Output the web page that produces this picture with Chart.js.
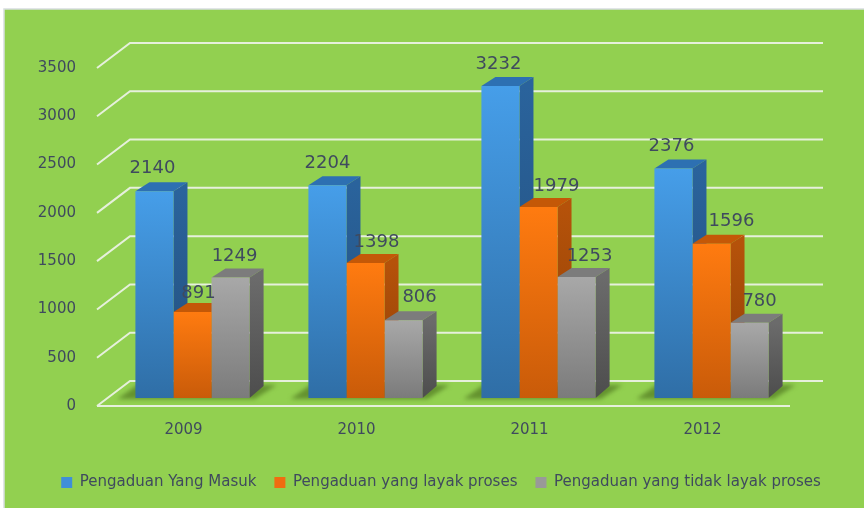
<!DOCTYPE html>
<html>
<head>
<meta charset="utf-8">
<style>
  html, body { margin: 0; padding: 0; background: #fff; }
  canvas { display: block; filter: blur(0.7px); }
</style>
<script src="https://cdn.jsdelivr.net/npm/chart.js@4"></script>
</head>
<body>
<canvas id="myChart" width="864" height="508"></canvas>
<script>
const years = ['2009', '2010', '2011', '2012'];
const seriesNames = ['Pengaduan Yang Masuk', 'Pengaduan yang layak proses', 'Pengaduan yang tidak layak proses'];
const masuk = [2140, 2204, 3232, 2376];
const layak = [891, 1398, 1979, 1596];
const tidakLayak = [1249, 806, 1253, 780];
const yTicks = [0, 500, 1000, 1500, 2000, 2500, 3000, 3500];

const textColor = '#3f4a5e';
const depthX = 14, depthY = 9;
const wallX = 24, wallY = 17, floorX = 9, floorY = 8;

// top colour, bottom colour, side top, side bottom, cap
const palette = [
  ['#469ee9', '#2f6ea6', '#2a639c', '#234f7c', '#2d70b2'],
  ['#ff7b10', '#c95b09', '#b5520a', '#8f4006', '#c45807'],
  ['#a8a8a8', '#7b7b7b', '#6b6b6b', '#4d4d4d', '#7c7c7c']
];
const legendColors = ['#3f8fd8', '#f06c10', '#999999'];

// the labels were dragged around in the original, so each one has its own nudge
const labelNudge = [[-2, 0, -2, -2], [6, 11, 18, 20], [4, 16, 13, 10]];
const labelLift = [[23, 22, 22, 22], [19, 21, 21, 23], [21, 23, 21, 21]];

function barGradient(i) {
  return function (c) {
    const chart = c.chart;
    if (!chart.chartArea || c.parsed === undefined) return palette[i][0];
    const top = chart.scales.y.getPixelForValue(c.parsed.y);
    const g = chart.ctx.createLinearGradient(0, top, 0, chart.chartArea.bottom);
    g.addColorStop(0, palette[i][0]);
    g.addColorStop(1, palette[i][1]);
    return g;
  };
}

const scene3d = {
  id: 'scene3d',
  beforeDraw(chart) {
    const ctx = chart.ctx;
    ctx.save();
    ctx.fillStyle = '#92d050';
    ctx.fillRect(4, 9, chart.width - 4, chart.height - 9);
    ctx.strokeStyle = '#d8dde0';
    ctx.lineWidth = 1.5;
    ctx.beginPath();
    ctx.moveTo(4, chart.height);
    ctx.lineTo(4, 9);
    ctx.lineTo(chart.width, 9);
    ctx.stroke();
    ctx.restore();
  },
  beforeDatasetsDraw(chart) {
    const ctx = chart.ctx;
    const area = chart.chartArea;
    const y = chart.scales.y;
    ctx.save();
    // slanted grid lines
    ctx.strokeStyle = '#e6f0dc';
    ctx.lineWidth = 2;
    yTicks.forEach(function (t) {
      const py = y.getPixelForValue(t);
      ctx.beginPath();
      ctx.moveTo(area.left - floorX, py + floorY);
      ctx.lineTo(area.left + wallX, py - wallY);
      ctx.lineTo(area.right + wallX + 1, py - wallY);
      ctx.stroke();
    });
    const zero = y.getPixelForValue(0);
    ctx.beginPath();
    ctx.moveTo(area.left - floorX, zero + floorY);
    ctx.lineTo(area.right - floorX + 1, zero + floorY);
    ctx.stroke();

    // floor shadow under each group
    const first = chart.getDatasetMeta(0).data;
    const last = chart.getDatasetMeta(2).data;
    ctx.filter = 'blur(2px)';
    ctx.fillStyle = '#64922f';
    first.forEach(function (b, i) {
      const l = b.x - b.width / 2;
      const r = last[i].x + last[i].width / 2;
      ctx.beginPath();
      ctx.moveTo(l - 18, zero + 1);
      ctx.lineTo(l + 2, zero - 13);
      ctx.lineTo(r + 27, zero - 13);
      ctx.lineTo(r + 5, zero + 1);
      ctx.closePath();
      ctx.fill();
    });
    ctx.filter = 'none';

    // side and cap of each bar, the library paints the front afterwards
    chart.data.datasets.forEach(function (ds, s) {
      chart.getDatasetMeta(s).data.forEach(function (b) {
        const l = b.x - b.width / 2;
        const r = b.x + b.width / 2;
        const g = ctx.createLinearGradient(0, b.y, 0, b.base);
        g.addColorStop(0, palette[s][2]);
        g.addColorStop(1, palette[s][3]);
        ctx.fillStyle = g;
        ctx.beginPath();
        ctx.moveTo(r, b.y);
        ctx.lineTo(r + depthX, b.y - depthY);
        ctx.lineTo(r + depthX, b.base - depthY - 3);
        ctx.lineTo(r, b.base);
        ctx.closePath();
        ctx.fill();
        ctx.fillStyle = palette[s][4];
        ctx.beginPath();
        ctx.moveTo(l, b.y);
        ctx.lineTo(l + depthX, b.y - depthY);
        ctx.lineTo(r + depthX, b.y - depthY);
        ctx.lineTo(r, b.y);
        ctx.closePath();
        ctx.fill();
      });
    });
    ctx.restore();
  },
  afterDatasetsDraw(chart) {
    const ctx = chart.ctx;
    ctx.save();
    ctx.fillStyle = textColor;
    ctx.font = '18px "DejaVu Sans"';
    ctx.textAlign = 'center';
    ctx.textBaseline = 'middle';
    chart.data.datasets.forEach(function (ds, s) {
      chart.getDatasetMeta(s).data.forEach(function (b, i) {
        ctx.fillText(String(ds.data[i]), b.x + labelNudge[s][i], b.y - labelLift[s][i]);
      });
    });
    ctx.restore();
  }
};

new Chart(document.getElementById('myChart'), {
  type: 'bar',
  data: {
    labels: years,
    datasets: [
      { label: seriesNames[0], data: masuk, backgroundColor: barGradient(0) },
      { label: seriesNames[1], data: layak, backgroundColor: barGradient(1) },
      { label: seriesNames[2], data: tidakLayak, backgroundColor: barGradient(2) }
    ]
  },
  plugins: [scene3d],
  options: {
    responsive: false,
    animation: false,
    devicePixelRatio: 1,
    layout: { padding: { left: 18, right: 0, top: 60, bottom: 8 } },
    datasets: { bar: { barPercentage: 1, categoryPercentage: 0.66 } },
    scales: {
      x: {
        grid: { display: false, drawTicks: false },
        border: { display: false },
        ticks: { color: textColor, font: { family: 'DejaVu Sans', size: 15 }, padding: 23, labelOffset: -9, maxRotation: 0 },
        afterFit(s) { s.height = 59; }
      },
      y: {
        min: 0,
        max: 3500,
        grid: { display: false, drawTicks: false },
        border: { display: false },
        afterBuildTicks(s) { s.ticks = yTicks.map(function (v) { return { value: v }; }); },
        ticks: { color: textColor, font: { family: 'DejaVu Sans', size: 15 }, padding: 30, labelOffset: 8, callback(v) { return String(v); } },
        afterFit(s) { s.width = 88; }
      },
      // empty axis, only keeps the plot clear of the right edge while the legend stays wide
      spacer: {
        type: 'linear',
        position: 'right',
        grid: { display: false, drawTicks: false },
        border: { display: false },
        ticks: { display: false },
        afterFit(s) { s.width = 66; }
      }
    },
    plugins: {
      tooltip: { enabled: false },
      legend: {
        position: 'bottom',
        labels: {
          color: textColor,
          font: { family: 'DejaVu Sans', size: 15 },
          boxWidth: 11,
          boxHeight: 11,
          padding: 18,
          generateLabels() {
            return seriesNames.map(function (n, i) {
              return { text: n, fillStyle: legendColors[i], strokeStyle: legendColors[i], lineWidth: 0, datasetIndex: i, fontColor: textColor };
            });
          }
        }
      }
    }
  }
});
</script>
</body>
</html>
